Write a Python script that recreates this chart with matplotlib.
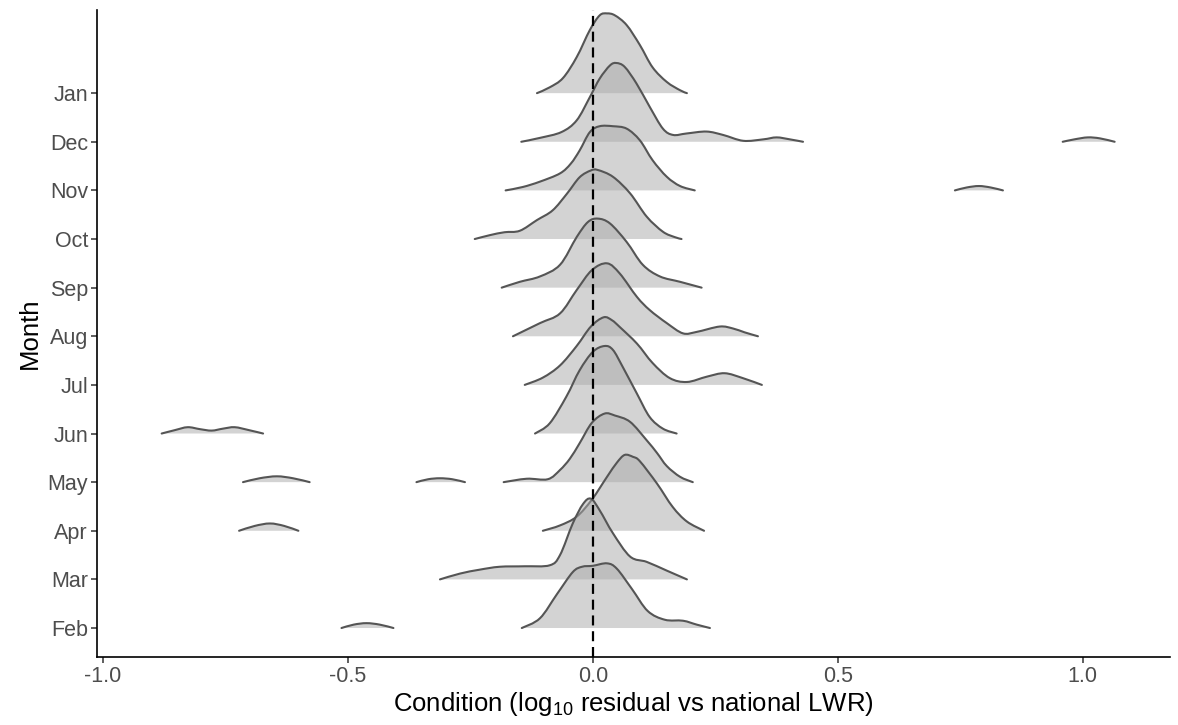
import matplotlib.pyplot as plt
import numpy as np
from matplotlib.path import Path
from matplotlib.patches import PathPatch

plt.rcParams["font.family"] = ["Liberation Sans", "DejaVu Sans"]
plt.rcParams["mathtext.fontset"] = "custom"
plt.rcParams["mathtext.rm"] = "Liberation Sans"
plt.rcParams["mathtext.it"] = "Liberation Sans:italic"

# months bottom to top
months = ["Feb", "Mar", "Apr", "May", "Jun", "Jul", "Aug", "Sep", "Oct", "Nov", "Dec", "Jan"]

# density outlines: x = condition, h = ridge height (in row units)
feb_x = [-0.145, -0.108, -0.073, -0.041, -0.022, 0.000, 0.029, 0.049, 0.080, 0.112, 0.147, 0.184, 0.212, 0.239]
feb_h = [0.00, 0.20, 0.70, 1.15, 1.26, 1.28, 1.33, 1.22, 0.80, 0.35, 0.17, 0.15, 0.07, 0.00]
feb_tail_x = [-0.513, -0.488, -0.462, -0.435, -0.407]
feb_tail_h = [0.00, 0.07, 0.10, 0.07, 0.00]

mar_x = [-0.312, -0.271, -0.231, -0.190, -0.139, -0.088, -0.067, -0.041, -0.020, -0.004, 0.014, 0.041, 0.076, 0.110, 0.151, 0.192]
mar_h = [0.00, 0.12, 0.20, 0.26, 0.27, 0.29, 0.50, 1.15, 1.55, 1.66, 1.42, 0.95, 0.47, 0.36, 0.18, 0.00]

apr_x = [-0.102, -0.067, -0.033, -0.002, 0.029, 0.049, 0.065, 0.082, 0.096, 0.131, 0.163, 0.192, 0.227]
apr_h = [0.00, 0.11, 0.29, 0.64, 1.11, 1.40, 1.56, 1.52, 1.43, 0.97, 0.49, 0.19, 0.00]
apr_tail_x = [-0.722, -0.690, -0.659, -0.630, -0.601]
apr_tail_h = [0.00, 0.10, 0.15, 0.10, 0.00]

may_x = [-0.182, -0.135, -0.092, -0.067, -0.047, -0.027, -0.002, 0.024, 0.045, 0.076, 0.110, 0.131, 0.151, 0.178, 0.204]
may_h = [0.00, 0.07, 0.06, 0.25, 0.48, 0.80, 1.22, 1.41, 1.37, 1.24, 0.86, 0.60, 0.33, 0.11, 0.00]
may_tail1_x = [-0.714, -0.680, -0.645, -0.612, -0.578]
may_tail1_h = [0.00, 0.08, 0.12, 0.08, 0.00]
may_tail2_x = [-0.360, -0.336, -0.312, -0.287, -0.261]
may_tail2_h = [0.00, 0.06, 0.08, 0.06, 0.00]

jun_x = [-0.118, -0.088, -0.054, -0.027, 0.000, 0.024, 0.041, 0.061, 0.090, 0.116, 0.143, 0.171]
jun_h = [0.00, 0.21, 0.76, 1.30, 1.68, 1.80, 1.72, 1.37, 0.82, 0.34, 0.10, 0.00]
jun_tail_x = [-0.880, -0.853, -0.827, -0.802, -0.778, -0.755, -0.731, -0.702, -0.673]
jun_tail_h = [0.00, 0.07, 0.13, 0.09, 0.06, 0.10, 0.13, 0.07, 0.00]

jul_x = [-0.139, -0.102, -0.067, -0.033, -0.004, 0.022, 0.039, 0.055, 0.090, 0.122, 0.157, 0.192, 0.233, 0.269, 0.306, 0.345]
jul_h = [0.00, 0.15, 0.40, 0.80, 1.20, 1.39, 1.33, 1.19, 0.85, 0.45, 0.14, 0.06, 0.17, 0.24, 0.14, 0.00]

aug_x = [-0.163, -0.108, -0.067, -0.033, -0.002, 0.029, 0.055, 0.090, 0.116, 0.151, 0.184, 0.212, 0.259, 0.286, 0.310, 0.337]
aug_h = [0.00, 0.27, 0.47, 0.95, 1.36, 1.50, 1.29, 0.81, 0.54, 0.27, 0.06, 0.09, 0.20, 0.16, 0.08, 0.00]

sep_x = [-0.186, -0.149, -0.108, -0.067, -0.033, -0.010, 0.010, 0.035, 0.069, 0.102, 0.137, 0.178, 0.222]
sep_h = [0.00, 0.12, 0.23, 0.47, 1.04, 1.35, 1.42, 1.32, 0.94, 0.47, 0.23, 0.12, 0.00]

oct_x = [-0.241, -0.210, -0.180, -0.149, -0.114, -0.082, -0.053, -0.027, -0.004, 0.010, 0.041, 0.076, 0.110, 0.143, 0.167, 0.181]
oct_h = [0.00, 0.08, 0.14, 0.17, 0.39, 0.59, 0.93, 1.27, 1.41, 1.42, 1.28, 0.94, 0.46, 0.15, 0.04, 0.00]

nov_x = [-0.178, -0.143, -0.108, -0.067, -0.045, -0.027, -0.006, 0.014, 0.041, 0.069, 0.096, 0.122, 0.151, 0.178, 0.208]
nov_h = [0.00, 0.07, 0.18, 0.35, 0.55, 0.82, 1.20, 1.32, 1.32, 1.27, 1.03, 0.62, 0.28, 0.09, 0.00]
nov_tail_x = [0.739, 0.763, 0.788, 0.812, 0.837]
nov_tail_h = [0.00, 0.06, 0.09, 0.06, 0.00]

dec_x = [-0.146, -0.108, -0.064, -0.033, -0.006, 0.014, 0.035, 0.048, 0.065, 0.089, 0.116, 0.143, 0.164,
         0.191, 0.232, 0.266, 0.307, 0.348, 0.375, 0.402, 0.429]
dec_h = [0.00, 0.08, 0.20, 0.44, 0.92, 1.30, 1.57, 1.62, 1.54, 1.20, 0.72, 0.27, 0.14,
         0.17, 0.21, 0.14, 0.02, 0.05, 0.09, 0.05, 0.00]
dec_tail_x = [0.959, 0.983, 1.010, 1.035, 1.065]
dec_tail_h = [0.00, 0.05, 0.09, 0.07, 0.00]

jan_x = [-0.114, -0.088, -0.061, -0.033, -0.006, 0.014, 0.029, 0.045, 0.069, 0.096, 0.122, 0.151, 0.178, 0.192]
jan_h = [0.00, 0.12, 0.31, 0.74, 1.30, 1.60, 1.64, 1.60, 1.40, 0.99, 0.53, 0.23, 0.06, 0.00]

ridges = {
    "Feb": [(feb_x, feb_h), (feb_tail_x, feb_tail_h)],
    "Mar": [(mar_x, mar_h)],
    "Apr": [(apr_x, apr_h), (apr_tail_x, apr_tail_h)],
    "May": [(may_x, may_h), (may_tail1_x, may_tail1_h), (may_tail2_x, may_tail2_h)],
    "Jun": [(jun_x, jun_h), (jun_tail_x, jun_tail_h)],
    "Jul": [(jul_x, jul_h)],
    "Aug": [(aug_x, aug_h)],
    "Sep": [(sep_x, sep_h)],
    "Oct": [(oct_x, oct_h)],
    "Nov": [(nov_x, nov_h), (nov_tail_x, nov_tail_h)],
    "Dec": [(dec_x, dec_h), (dec_tail_x, dec_tail_h)],
    "Jan": [(jan_x, jan_h)],
}

x_ticks = [-1.0, -0.5, 0.0, 0.5, 1.0]
x_tick_labels = ["-1.0", "-0.5", "0.0", "0.5", "1.0"]


def smooth_verts(xs, ys):
    # cubic bezier pieces through the points (catmull-rom tangents)
    p = np.column_stack([xs, ys])
    ext = np.vstack([p[0], p, p[-1]])
    verts = [p[0]]
    for k in range(len(p) - 1):
        p0, p1, p2, p3 = ext[k], ext[k + 1], ext[k + 2], ext[k + 3]
        verts += [p1 + (p2 - p0) / 6, p2 - (p3 - p1) / 6, p2]
    return np.array(verts)


fig = plt.figure(figsize=(11.78, 7.25), dpi=100)
ax = fig.add_axes([97 / 1178, 68 / 725, 1073 / 1178, 647 / 725])

# top ridge first so lower ridges sit on top of it
for i in reversed(range(len(months))):
    base = i + 1
    for xs, hs in ridges[months[i]]:
        top = base + np.array(hs)
        curve = smooth_verts(np.array(xs), top)
        n_curve = len(curve)
        line_codes = [Path.MOVETO] + [Path.CURVE4] * (n_curve - 1)
        fill_verts = np.vstack([curve, [[xs[-1], base], [xs[0], base], curve[0]]])
        fill_codes = line_codes + [Path.LINETO, Path.LINETO, Path.CLOSEPOLY]
        ax.add_patch(PathPatch(Path(fill_verts, fill_codes), facecolor="#ababab",
                               alpha=0.52, lw=0))
        ax.add_patch(PathPatch(Path(curve, line_codes), facecolor="none",
                               edgecolor="#555555", lw=1.5, capstyle="round", joinstyle="round"))

ax.axvline(0, color="black", lw=1.6, ls=(0, (4.5, 2.6)), zorder=10)

ax.set_xlim(-1.012, 1.178)
ax.set_ylim(0.404, 13.71)
ax.set_xticks(x_ticks)
ax.set_xticklabels(x_tick_labels)
ax.set_yticks(range(1, len(months) + 1))
ax.set_yticklabels(months)

for side in ["top", "right"]:
    ax.spines[side].set_visible(False)
for side in ["left", "bottom"]:
    ax.spines[side].set_linewidth(1.2)
    ax.spines[side].set_color("black")

ax.tick_params(axis="both", length=4, width=1.1, color="#333333", labelsize=15.5,
               labelcolor="#4d4d4d", pad=2.5)

ax.set_xlabel(r"Condition (log$_{10}$ residual vs national LWR)", fontsize=18.5, labelpad=2)
ax.set_ylabel("Month", fontsize=18.5, labelpad=4)

fig.savefig("out.png", dpi=100)
